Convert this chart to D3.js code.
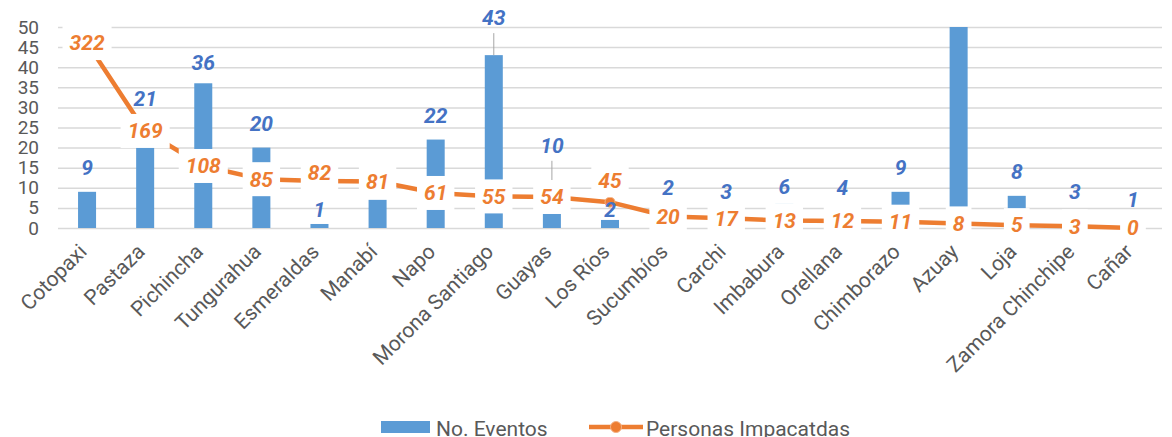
<!DOCTYPE html>
<html>
<head>
<meta charset="utf-8">
<script src="https://cdn.jsdelivr.net/npm/d3@7"></script>
<style>
  body { margin: 0; background: #fff; }
  svg { display: block; font-family: Roboto, sans-serif; }
</style>
</head>
<body>
<script>
var categories = ['Cotopaxi', 'Pastaza', 'Pichincha', 'Tungurahua', 'Esmeraldas', 'Manabí', 'Napo',
  'Morona Santiago', 'Guayas', 'Los Ríos', 'Sucumbíos', 'Carchi', 'Imbabura', 'Orellana',
  'Chimborazo', 'Azuay', 'Loja', 'Zamora Chinchipe', 'Cañar'];
var eventos = [9, 21, 36, 20, 1, 7, 22, 43, 10, 2, 2, 3, 6, 4, 9, 58, 8, 3, 1];
var personas = [322, 169, 108, 85, 82, 81, 61, 55, 54, 45, 20, 17, 13, 12, 11, 8, 5, 3, 0];
var yTicks = [0, 5, 10, 15, 20, 25, 30, 35, 40, 45, 50];
var seriesNames = ['No. Eventos', 'Personas Impacatdas'];

// labels that were dragged by hand in the original
var barLabelShift = { 'Pastaza': -21, 'Pichincha': 3, 'Esmeraldas': 10, 'Morona Santiago': -13,
  'Guayas': -18, 'Los Ríos': 14, 'Sucumbíos': -8, 'Imbabura': 7 };
var lineLabelShift = { 'Esmeraldas': -8, 'Los Ríos': -22 };
var leaders = ['Morona Santiago', 'Guayas'];

var W = 1172, H = 437;
var plotLeft = 58, plotRight = 1162, plotTop = 27, plotBottom = 228;
var blue = '#5B9BD5', blueText = '#4472C4', orange = '#ED7D31';

var svg = d3.select('body').append('svg').attr('width', W).attr('height', H);

// cut-off title above the frame
svg.append('text')
  .attr('x', 13).attr('y', -5)
  .attr('font-size', 20).attr('fill', '#262626')
  .text('Eventos e impactos ocasionados en cada provincia afectada y personas afectadas');

var x = d3.scaleBand().domain(categories).range([plotLeft, plotRight])
  .paddingInner(0.69).paddingOuter(0.345);
var y = d3.scaleLinear().domain([0, 50]).range([plotBottom, plotTop]);
var y2 = d3.scaleLinear().domain([0, 350]).range([plotBottom, plotTop]);
function cx(c) { return x(c) + x.bandwidth() / 2; }

// gridlines + tick labels
var yAxis = svg.append('g')
  .attr('transform', 'translate(' + plotLeft + ',0)')
  .call(d3.axisLeft(y).tickValues(yTicks).tickSize(-(plotRight - plotLeft)).tickPadding(19));
yAxis.select('.domain').remove();
yAxis.selectAll('.tick line').attr('stroke', '#d9d9d9').attr('stroke-width', 1.5);
yAxis.selectAll('.tick text').attr('fill', '#595959').attr('font-size', 19)
  .attr('font-family', 'Roboto, sans-serif');

svg.append('clipPath').attr('id', 'plot')
  .append('rect').attr('x', plotLeft).attr('y', plotTop)
  .attr('width', plotRight - plotLeft).attr('height', plotBottom - plotTop);

// bars
svg.append('g').attr('clip-path', 'url(#plot)')
  .selectAll('rect')
  .data(eventos)
  .enter()
  .append('rect')
    .attr('x', function(d, i) { return x(categories[i]); })
    .attr('width', x.bandwidth())
    .attr('y', function(d) { return y(d); })
    .attr('height', function(d) { return plotBottom - y(d); })
    .attr('fill', blue);

// line + markers
var line = d3.line()
  .x(function(d, i) { return cx(categories[i]); })
  .y(function(d) { return y2(d); });

svg.append('path')
  .datum(personas)
  .attr('d', line)
  .attr('fill', 'none')
  .attr('stroke', orange)
  .attr('stroke-width', 4.5)
  .attr('stroke-linejoin', 'round');

svg.append('g').selectAll('circle')
  .data(personas)
  .enter()
  .append('circle')
    .attr('cx', function(d, i) { return cx(categories[i]); })
    .attr('cy', function(d) { return y2(d); })
    .attr('r', 5)
    .attr('fill', orange)
    .attr('stroke', '#f4b183')
    .attr('stroke-width', 1);

// bar labels
function barLabelY(i) {
  return y(eventos[i]) - 24 + (barLabelShift[categories[i]] || 0);
}

svg.append('g').selectAll('line')
  .data(leaders)
  .enter()
  .append('line')
    .attr('x1', function(c) { return cx(c); })
    .attr('x2', function(c) { return cx(c); })
    .attr('y1', function(c) { return barLabelY(categories.indexOf(c)) + 15; })
    .attr('y2', function(c) { return y(eventos[categories.indexOf(c)]); })
    .attr('stroke', '#a6a6a6')
    .attr('stroke-width', 1);

svg.append('g').selectAll('text')
  .data(eventos)
  .enter()
  .append('text')
    .attr('x', function(d, i) { return cx(categories[i]); })
    .attr('y', function(d, i) { return barLabelY(i); })
    .attr('dy', '0.35em')
    .attr('text-anchor', 'middle')
    .attr('font-size', 21)
    .attr('font-weight', 'bold')
    .attr('font-style', 'italic')
    .attr('fill', blueText)
    .attr('display', function(d) { return d > 50 ? 'none' : null; })
    .text(function(d) { return d; });

// line labels with white boxes
var lineLabels = svg.append('g').selectAll('g')
  .data(personas)
  .enter()
  .append('g')
    .attr('transform', function(d, i) {
      return 'translate(' + cx(categories[i]) + ',' + (y2(d) + (lineLabelShift[categories[i]] || 0)) + ')';
    });

lineLabels.append('rect').attr('fill', '#fff');
lineLabels.append('text')
  .attr('dy', '0.35em')
  .attr('text-anchor', 'middle')
  .attr('font-size', 21)
  .attr('font-weight', 'bold')
  .attr('font-style', 'italic')
  .attr('fill', orange)
  .text(function(d) { return d; });

lineLabels.each(function() {
  var g = d3.select(this);
  var w = g.select('text').node().getComputedTextLength() + 14;
  g.select('rect').attr('x', -w / 2).attr('y', -17).attr('width', w).attr('height', 34);
});

// category labels
svg.append('g').selectAll('text')
  .data(categories)
  .enter()
  .append('text')
    .attr('transform', function(d) { return 'translate(' + (cx(d) + 1) + ',253) rotate(-45)'; })
    .attr('text-anchor', 'end')
    .attr('font-size', 21)
    .attr('fill', '#595959')
    .text(function(d) { return d; });

// legend
var legend = svg.append('g');
legend.append('rect').attr('x', 381).attr('y', 421).attr('width', 49).attr('height', 12).attr('fill', blue);
legend.append('text').attr('x', 436).attr('y', 436).attr('font-size', 21).attr('fill', '#595959').text(seriesNames[0]);
legend.append('line').attr('x1', 589).attr('x2', 643).attr('y1', 427).attr('y2', 427)
  .attr('stroke', orange).attr('stroke-width', 4.5);
legend.append('circle').attr('cx', 616).attr('cy', 427).attr('r', 5.5)
  .attr('fill', orange).attr('stroke', '#f4b183');
legend.append('text').attr('x', 646).attr('y', 436).attr('font-size', 21).attr('fill', '#595959').text(seriesNames[1]);
</script>
</body>
</html>
